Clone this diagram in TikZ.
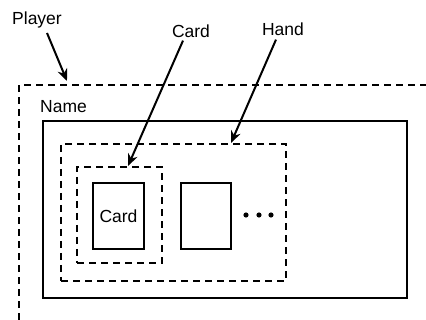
\documentclass[tikz,border=0pt]{standalone}
\usepackage{fontspec}
\setmainfont{Liberation Sans}
\usetikzlibrary{arrows.meta,positioning}
\tikzset{
  solidbox/.style={draw=black,line width=2pt,minimum width=#1,inner sep=0pt},
  dashbox/.style={draw=black,line width=2pt,dash pattern=on 7pt off 5pt,inner sep=0pt},
  label/.style={font=\fontsize{17.5}{20}\selectfont,inner sep=1pt},
  pointer/.style={-{Stealth[length=12pt,width=10pt]},line width=2pt}
}

\begin{document}
\begin{tikzpicture}[x=1pt,y=-1pt]
  \useasboundingbox (0,0) rectangle (426,320);
  % player frame, cut off by the page
  \coordinate (pl0) at (19,320);
  \coordinate (pl1) at (19,85);
  \coordinate (pl2) at (426,85);
  \draw[dashbox] (pl0) -- (pl1) -- (pl2);
  % boxes
  \node[solidbox=364pt,minimum height=177pt] (name) at (225,209.5) {};
  \node[dashbox,minimum width=225pt,minimum height=137pt] (hand) at (173.5,212.5) {};
  \node[dashbox,minimum width=85pt,minimum height=96pt] (cardgrp) at (119.5,215) {};
  \node[solidbox=51pt,minimum height=66pt,label] (card) at (118.5,216) {Card};
  \node[solidbox=50pt,minimum height=66pt] (blank) at (206,216) {};
  \foreach \x in {246,259,271}
    \fill (\x,215) circle (2.6pt);
  % labels
  \node[label] (player) at (37,20) {Player};
  \node[label,anchor=south west] (namelbl) at (39,114) {Name};
  \node[label] (cardlbl) at (191,31) {Card};
  \node[label] (handlbl) at (283,29) {Hand};
  \coordinate (playertip) at (67,81);
  \coordinate (cardtip) at (128,166);
  \coordinate (handtip) at (231,143);
  \draw[pointer] (player) ++(10,13) -- (playertip);
  \draw[pointer] (cardlbl.south) ++(-8,2) -- (cardtip);
  \draw[pointer] (handlbl.south) ++(-7,3) -- (handtip);
\end{tikzpicture}
\end{document}
